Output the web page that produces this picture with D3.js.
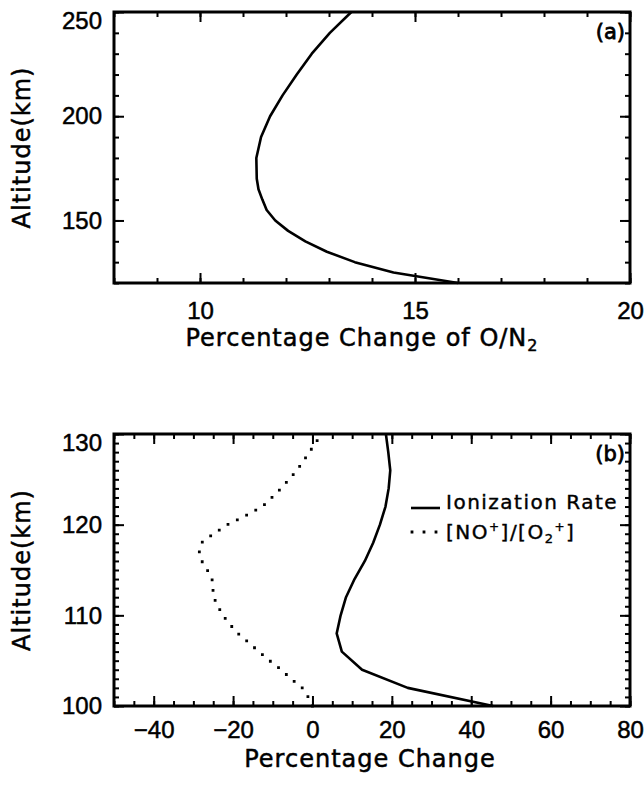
<!DOCTYPE html>
<html lang="en">
<head>
<meta charset="UTF-8">
<title>Percentage change profiles</title>
<script src="https://d3js.org/d3.v7.min.js"></script>
<style>
    body { margin: 0; background: #fff; }
    svg { display: block; font-family: "DejaVu Sans", sans-serif; }
    .frame { fill: none; stroke: #000; stroke-width: 3; }
    .axis path { display: none; }
    .axis line { stroke: #000; stroke-width: 2; }
    .axis text { font-size: 24px; fill: #000; stroke: #000; stroke-width: 0.5; }
    .curve { fill: none; stroke: #000; stroke-width: 2.6; stroke-linejoin: round; }
    .dotted { stroke-dasharray: 0 10.4; stroke-linecap: square; stroke-width: 2.8; }
    .title { font-size: 24px; letter-spacing: 1px; stroke: #000; stroke-width: 0.5; }
    .tag { font-size: 21px; stroke: #000; stroke-width: 0.8; }
    .legend text { font-size: 20px; letter-spacing: 1.5px; stroke: #000; stroke-width: 0.4; }
</style>
</head>
<body>
<svg id="chart" width="644" height="785"></svg>
<script>
// panel (a): O/N2 change vs altitude
const altA = [120, 125, 130, 135, 140, 145, 150, 155, 160, 165, 170, 180, 190, 200, 210, 220, 230, 240, 250];
const o2n2Change = [16.0, 14.5, 13.6, 12.95, 12.45, 12.05, 11.75, 11.55, 11.45, 11.36, 11.32, 11.31, 11.42, 11.63, 11.92, 12.25, 12.6, 13.02, 13.52];

// panel (b): ionization rate change
const altIon = [100, 102, 104, 106, 108, 110, 112, 114, 116, 118, 120, 122, 124, 126, 128, 130];
const ionRate = [45.5, 24.0, 12.5, 7.4, 6.1, 7.1, 8.45, 10.6, 13.2, 15.3, 17.0, 18.4, 19.2, 19.6, 19.1, 18.5];

// panel (b): [NO+]/[O2+] change
const altRatio = [100, 101, 102, 103, 104, 105, 106, 107, 108, 109, 110, 111, 112, 113, 114, 115, 116, 117, 118, 119, 120, 121, 122, 123, 124, 125, 126, 127, 128, 129, 130];
const ratioChange = [0.0, -1.1, -2.6, -5.4, -7.9, -10.8, -13.5, -16.1, -18.8, -20.8, -22.6, -23.8, -24.9, -25.1, -25.3, -26.5, -27.9, -28.5, -28.0, -24.9, -21.4, -16.8, -12.6, -10.2, -7.9, -5.9, -3.9, -2.3, -0.8, 0.8, 2.2];

// tick values
const ticksAX = [10, 15, 20];
const ticksAY = [150, 200, 250];
const ticksBX = [-40, -20, 0, 20, 40, 60, 80];
const ticksBY = [100, 110, 120, 130];

const svg = d3.select("#chart");

function panel(opt) {
    const g = svg.append("g");
    const x = d3.scaleLinear().domain(opt.xDomain).range([opt.left, opt.right]);
    const y = d3.scaleLinear().domain(opt.yDomain).range([opt.bottom, opt.top]);

    const minorX = d3.range(opt.xDomain[0], opt.xDomain[1] + 1e-9, opt.xMinor);
    const minorY = d3.range(opt.yDomain[0], opt.yDomain[1] + 1e-9, opt.yMinor);

    // minor ticks on all four sides
    g.append("g").attr("class", "axis").attr("transform", `translate(0,${opt.bottom})`)
        .call(d3.axisBottom(x).tickValues(minorX).tickSize(-5).tickFormat(""));
    g.append("g").attr("class", "axis").attr("transform", `translate(0,${opt.top})`)
        .call(d3.axisTop(x).tickValues(minorX).tickSize(-5).tickFormat(""));
    g.append("g").attr("class", "axis").attr("transform", `translate(${opt.left},0)`)
        .call(d3.axisLeft(y).tickValues(minorY).tickSize(-5).tickFormat(""));
    g.append("g").attr("class", "axis").attr("transform", `translate(${opt.right},0)`)
        .call(d3.axisRight(y).tickValues(minorY).tickSize(-5).tickFormat(""));

    // major ticks + labels
    g.append("g").attr("class", "axis").attr("transform", `translate(0,${opt.bottom})`)
        .call(d3.axisBottom(x).tickValues(opt.xTicks).tickSize(-10).tickPadding(opt.xPad).tickFormat(d => d < 0 ? "\u2212" + Math.abs(d) : d));
    g.append("g").attr("class", "axis").attr("transform", `translate(0,${opt.top})`)
        .call(d3.axisTop(x).tickValues(opt.xTicks).tickSize(-10).tickFormat(""));
    const yAxis = g.append("g").attr("class", "axis").attr("transform", `translate(${opt.left},0)`)
        .call(d3.axisLeft(y).tickValues(opt.yTicks).tickSize(-10).tickPadding(12));
    // top label sits a bit lower, as in the original
    yAxis.selectAll(".tick text").filter(d => d === opt.yDomain[1]).attr("dy", "0.7em");
    g.append("g").attr("class", "axis").attr("transform", `translate(${opt.right},0)`)
        .call(d3.axisRight(y).tickValues(opt.yTicks).tickSize(-10).tickFormat(""));

    g.append("rect").attr("class", "frame")
        .attr("x", opt.left).attr("y", opt.top)
        .attr("width", opt.right - opt.left).attr("height", opt.bottom - opt.top);

    // y label
    g.append("text").attr("class", "title")
        .attr("transform", `translate(30,${(opt.top + opt.bottom) / 2}) rotate(-90)`)
        .attr("text-anchor", "middle")
        .text("Altitude(km)");

    // panel tag
    g.append("text").attr("class", "tag")
        .attr("x", opt.right - 5).attr("y", opt.top + 27)
        .attr("text-anchor", "end")
        .text(opt.tag);

    return { g, x, y };
}

// ---- panel (a)
const pa = panel({
    left: 114, right: 630, top: 12, bottom: 283,
    xDomain: [8, 20], yDomain: [120, 250],
    xMinor: 1, yMinor: 10, xPad: 19,
    xTicks: ticksAX, yTicks: ticksAY, tag: "(a)"
});

const lineA = d3.line().x((d, i) => pa.x(o2n2Change[i])).y(d => pa.y(d));
pa.g.append("path").datum(altA).attr("class", "curve").attr("d", lineA);

const titleA = pa.g.append("text").attr("class", "title")
    .attr("x", 362).attr("y", 346).attr("text-anchor", "middle");
titleA.append("tspan").text("Percentage Change of O/N");
titleA.append("tspan").attr("font-size", 16).attr("dy", 5).text("2");

// ---- panel (b)
const pb = panel({
    left: 114, right: 630, top: 434, bottom: 706,
    xDomain: [-50, 80], yDomain: [100, 130],
    xMinor: 5, yMinor: 1, xPad: 15,
    xTicks: ticksBX, yTicks: ticksBY, tag: "(b)"
});

const lineIon = d3.line().x((d, i) => pb.x(ionRate[i])).y(d => pb.y(d));
pb.g.append("path").datum(altIon).attr("class", "curve").attr("d", lineIon);

const lineRatio = d3.line().x((d, i) => pb.x(ratioChange[i])).y(d => pb.y(d));
pb.g.append("path").datum(altRatio).attr("class", "curve dotted").attr("d", lineRatio);

pb.g.append("text").attr("class", "title")
    .attr("x", 370).attr("y", 767).attr("text-anchor", "middle")
    .text("Percentage Change");

// legend
const legend = pb.g.append("g").attr("class", "legend");
legend.append("line").attr("class", "curve")
    .attr("x1", 411).attr("x2", 440).attr("y1", 508).attr("y2", 508);
legend.append("text").attr("x", 446).attr("y", 509).text("Ionization Rate");

legend.append("line").attr("class", "curve dotted")
    .attr("x1", 412).attr("x2", 440).attr("y1", 532).attr("y2", 532)
    .style("stroke-dasharray", "0 12");
const lt = legend.append("text").attr("x", 446).attr("y", 539);
lt.append("tspan").text("[NO");
lt.append("tspan").attr("font-size", 12).attr("dy", -8).text("+");
lt.append("tspan").attr("dy", 8).text("]/[O");
lt.append("tspan").attr("font-size", 13).attr("dy", 4).text("2");
lt.append("tspan").attr("font-size", 12).attr("dy", -12).text("+");
lt.append("tspan").attr("dy", 8).text("]");
</script>
</body>
</html>
